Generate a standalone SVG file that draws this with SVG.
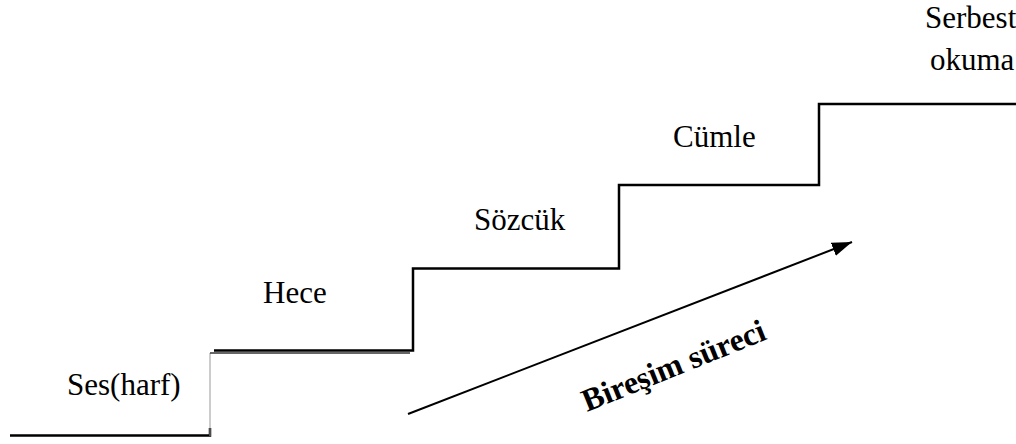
<svg xmlns="http://www.w3.org/2000/svg" width="1016" height="444" viewBox="0 0 1016 444">
<style>
.lbl{font-family:"Liberation Serif","Times New Roman",serif;font-size:31px;fill:#000}
.bold{font-family:"Liberation Serif","Times New Roman",serif;font-size:32px;font-weight:bold;fill:#000}
.step{fill:none;stroke:#000;stroke-width:2.5}
</style>
<defs>
<marker id="ah2" viewBox="0 0 20 14" refX="20" refY="7" markerWidth="20" markerHeight="14" orient="auto" markerUnits="userSpaceOnUse">
<path d="M0,0 L20,7 L0,14 Z" fill="#000"/>
</marker>
</defs>
<g id="stairs">
<path class="step" d="M10,435.5 H210 V428"/>
<path d="M210,436 V353" fill="none" stroke="#999" stroke-width="1"/>
<path d="M210,353 H410" fill="none" stroke="#333" stroke-width="1.3"/>
<path class="step" d="M214,350.5 H413 V268.5 H619 V185 H819 V104 H1016"/>
</g>
<g id="n1"><text class="lbl" x="67" y="395">Ses(harf)</text></g>
<g id="n2"><text class="lbl" x="263" y="303">Hece</text></g>
<g id="n3"><text class="lbl" x="474" y="230">Sözcük</text></g>
<g id="n4"><text class="lbl" x="673" y="147">Cümle</text></g>
<g id="n5"><text class="lbl" x="925" y="28">Serbest</text><text class="lbl" x="930" y="70">okuma</text></g>
<g id="connectors">
<line x1="408" y1="414" x2="852" y2="242" stroke="#000" stroke-width="2" marker-end="url(#ah2)"/>
</g>
<g id="arrowlabel"><text class="bold" transform="translate(587,412) rotate(-22)">Bireşim süreci</text></g>
</svg>
